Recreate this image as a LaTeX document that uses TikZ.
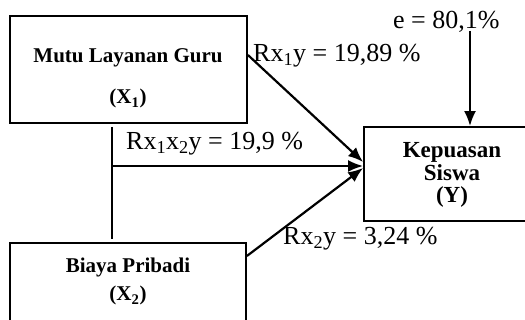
\documentclass[tikz,border=0pt]{standalone}
\usepackage{fontspec}
\setmainfont{Liberation Serif}
\usetikzlibrary{arrows.meta}

\tikzset{
  box/.style={draw, line width=1.8pt, inner sep=0pt},
  lbl/.style={anchor=base west, inner sep=0pt, font=\fontsize{26}{30}\selectfont},
  ttl/.style={anchor=base, inner sep=0pt, font=\bfseries\fontsize{21}{24}\selectfont},
  ttly/.style={ttl, font=\bfseries\fontsize{23}{26}\selectfont},
  arr/.style={-{Latex[length=15pt,width=12pt]}, line width=2.2pt},
}

\begin{document}
\begin{tikzpicture}[x=1pt, y=-1pt]
  \path[use as bounding box, clip] (0,0) rectangle (525,320);

  % boxes
  \node[box, minimum width=237, minimum height=107] (x1) at (128.5,69.5) {};
  \node[box, minimum width=236, minimum height=97] (x2) at (128,291.5) {};
  \node[box, minimum width=176, minimum height=94] (ky) at (452,174) {};

  % box texts
  \node[ttl] (x1a) at (128,63) {Mutu Layanan Guru};
  \node[ttl] (x1b) at (128,104) {(X\textsubscript{1})};
  \node[ttl] (x2a) at (128,273) {Biaya Pribadi};
  \node[ttl] (x2b) at (128,301) {(X\textsubscript{2})};
  \node[ttly] (kya) at (452,158) {Kepuasan};
  \node[ttly] (kyb) at (452,181) {Siswa};
  \node[ttly] (kyc) at (452,203) {(Y)};

  % path labels
  \node[lbl] (e) at (393,29) {e = 80,1\%};
  \node[lbl] (r1) at (253,62) {Rx\textsubscript{1}y = 19,89 \%};
  \node[lbl] (r12) at (126,150) {Rx\textsubscript{1}x\textsubscript{2}y = 19,9 \%};
  \node[lbl] (r2) at (283,245) {Rx\textsubscript{2}y = 3,24 \%};

  % connectors
  \coordinate (top) at (112,127);
  \coordinate (bot) at (112,239);
  \coordinate (j) at (112,166);
  \coordinate (ein) at (470,31);
  \draw[line width=2pt] (top) -- (bot);
  \draw[arr] (j) -- ([yshift=8]ky.west);
  \draw[arr] ([yshift=14.5]x1.east) -- ([yshift=12]ky.west);
  \draw[arr] ([yshift=35.5]x2.east) -- ([yshift=6]ky.west);
  \draw[arr] (ein) -- (ein |- ky.north);
\end{tikzpicture}
\end{document}
